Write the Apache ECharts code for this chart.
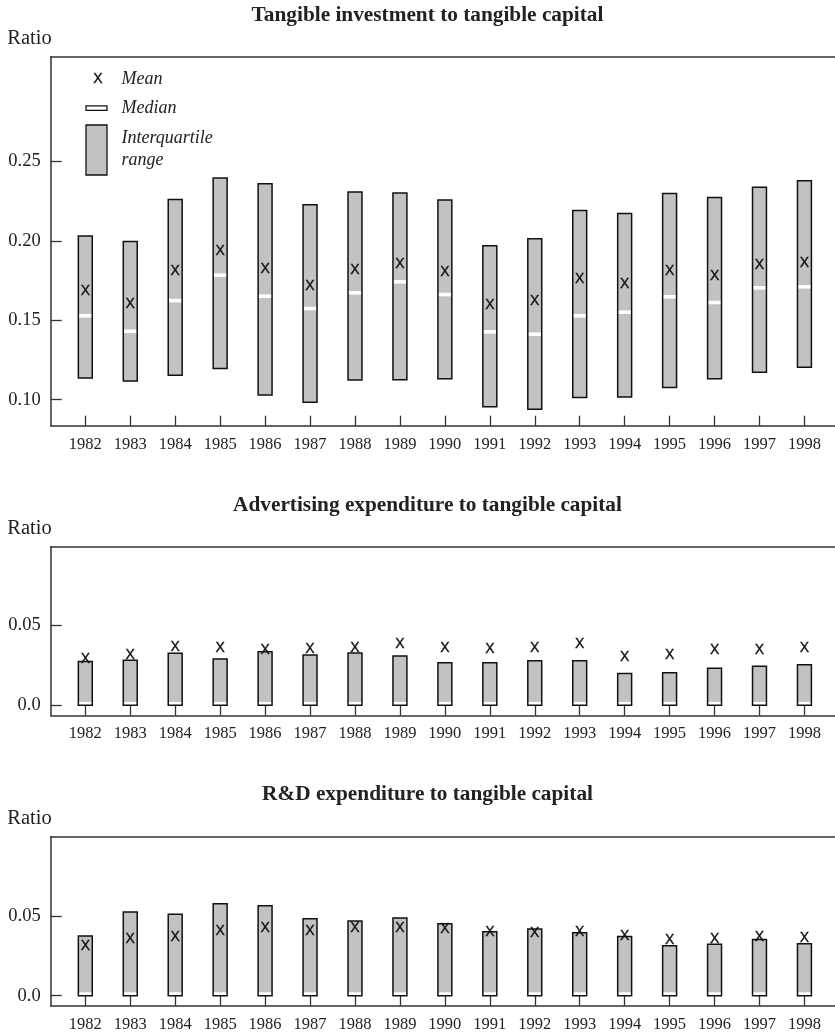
<!DOCTYPE html>
<html>
<head>
<meta charset="utf-8">
<script src="https://cdn.jsdelivr.net/npm/echarts@6/dist/echarts.min.js"></script>
<style>
html,body{margin:0;padding:0;background:#fff;}
#chart{width:835px;height:1034px;}
</style>
</head>
<body>
<div id="chart"></div>
<script>
// ---- data ----
const years = ['1982','1983','1984','1985','1986','1987','1988','1989','1990','1991','1992','1993','1994','1995','1996','1997','1998'];

const tanQ1   = [0.1137,0.1118,0.1154,0.1196,0.1030,0.0984,0.1124,0.1126,0.1132,0.0956,0.0939,0.1013,0.1017,0.1076,0.1131,0.1173,0.1204];
const tanMed  = [0.1528,0.1431,0.1624,0.1784,0.1652,0.1574,0.1673,0.1742,0.1662,0.1427,0.1412,0.1528,0.1551,0.1648,0.1612,0.1704,0.1711];
const tanQ3   = [0.2030,0.1996,0.2261,0.2396,0.2360,0.2228,0.2308,0.2301,0.2257,0.1969,0.2013,0.2192,0.2173,0.2299,0.2274,0.2337,0.2379];
const tanMean = [0.1685,0.1603,0.1811,0.1938,0.1824,0.1717,0.1818,0.1856,0.1805,0.1593,0.1622,0.1759,0.1725,0.1810,0.1780,0.1849,0.1860];

const advQ1   = [0,0,0,0,0,0,0,0,0,0,0,0,0,0,0,0,0];
const advMed  = [0.001,0.001,0.001,0.001,0.001,0.001,0.001,0.001,0.001,0.001,0.001,0.001,0.001,0.001,0.001,0.001,0.001];
const advQ3   = [0.0273,0.0281,0.0325,0.0289,0.0335,0.0314,0.0327,0.0308,0.0266,0.0266,0.0279,0.0279,0.0198,0.0204,0.0231,0.0244,0.0254];
const advMean = [0.0291,0.0312,0.0364,0.0356,0.0346,0.0354,0.0356,0.0381,0.0360,0.0350,0.0356,0.0381,0.0302,0.0312,0.0346,0.0346,0.0356];

const rdQ1    = [0,0,0,0,0,0,0,0,0,0,0,0,0,0,0,0,0];
const rdMed   = [0.001,0.001,0.001,0.001,0.001,0.001,0.001,0.001,0.001,0.001,0.001,0.001,0.001,0.001,0.001,0.001,0.001];
const rdQ3    = [0.0376,0.0527,0.0512,0.0579,0.0567,0.0485,0.0470,0.0489,0.0453,0.0403,0.0420,0.0397,0.0372,0.0315,0.0324,0.0353,0.0327];
const rdMean  = [0.0313,0.0355,0.0370,0.0406,0.0424,0.0407,0.0424,0.0424,0.0418,0.0401,0.0395,0.0397,0.0378,0.0351,0.0353,0.0370,0.0365];

const titles = ['Tangible investment to tangible capital','Advertising expenditure to tangible capital','R&D expenditure to tangible capital'];
const yTicksTop = [0.10,0.15,0.20,0.25];
const yTicksSmall = [0,0.05];

// ---- layout / style ----
const SERIF = '"Liberation Serif","Times New Roman",serif';
const SANS = '"Liberation Sans",Arial,sans-serif';
const INK = '#222';
const AX = '#333';
const panels = [
  {top:56.7, height:369, ymin:0.0836, ymax:0.316, ticks:yTicksTop, fmt:v=>v.toFixed(2), titleTop:0, q1:tanQ1, med:tanMed, q3:tanQ3, mean:tanMean},
  {top:546.7, height:168.6, ymin:-0.00625, ymax:0.0991, ticks:yTicksSmall, fmt:v=>v===0?'0.0':v.toFixed(2), titleTop:490, q1:advQ1, med:advMed, q3:advQ3, mean:advMean},
  {top:836.7, height:169, ymin:-0.0063, ymax:0.1001, ticks:yTicksSmall, fmt:v=>v===0?'0.0':v.toFixed(2), titleTop:779, q1:rdQ1, med:rdMed, q3:rdQ3, mean:rdMean}
];
const idx = years.map((_, i) => i);
const XMIN = -0.77, XMAX = 16.68;
const MEAN_FONT = '14px ' + SANS;

function renderBox(params, api) {
  const i = api.value(0);
  const lo = api.coord([i, api.value(1)]);
  const md = api.coord([i, api.value(2)]);
  const hi = api.coord([i, api.value(3)]);
  const mn = api.coord([i, api.value(4)]);
  const w = api.size([1, 0])[0] * 0.31;
  const x0 = lo[0] - w / 2;
  return {
    type: 'group',
    children: [
      {type:'rect', shape:{x:x0, y:hi[1], width:w, height:lo[1]-hi[1]}, style:{fill:'#c2c2c2', stroke:null}},
      {type:'rect', shape:{x:x0, y:md[1]-1.8, width:w, height:3.6}, style:{fill:'#ffffff', stroke:null}},
      {type:'rect', shape:{x:x0, y:hi[1], width:w, height:lo[1]-hi[1]}, style:{fill:null, stroke:'#111', lineWidth:1.5}},
      {type:'text', x:mn[0], y:mn[1], style:{text:'X', font:MEAN_FONT, fill:'#111', stroke:'#111', lineWidth:0.4, align:'center', verticalAlign:'middle'}}
    ]
  };
}

const grid = [], xAxis = [], yAxis = [], series = [], title = [];
panels.forEach((p, k) => {
  grid.push({left:50.7, right:0, top:p.top, height:p.height, containLabel:false});
  title.push({text:titles[k], left:422.5, top:p.titleTop, textAlign:'center',
    textStyle:{fontFamily:SERIF, fontWeight:'bold', fontSize:21.3, color:INK}});
  xAxis.push({type:'value', gridIndex:k, min:XMIN, max:XMAX,
    axisLine:{show:true, onZero:false, lineStyle:{color:AX, width:1.5}},
    axisTick:{show:true, inside:true, length:10, customValues:idx, lineStyle:{color:AX, width:1.3}},
    axisLabel:{show:true, customValues:idx, formatter:v=>years[Math.round(v)], margin:10,
      fontFamily:SERIF, fontSize:16.5, color:INK},
    splitLine:{show:false}});
  xAxis.push({type:'value', gridIndex:k, position:'top', min:XMIN, max:XMAX,
    axisLine:{show:true, onZero:false, lineStyle:{color:AX, width:1.5}},
    axisTick:{show:false}, axisLabel:{show:false}, splitLine:{show:false}});
  yAxis.push({type:'value', gridIndex:k, min:p.ymin, max:p.ymax,
    name:'Ratio', nameLocation:'end', nameGap:8,
    nameTextStyle:{fontFamily:SERIF, fontSize:20.5, color:INK, align:'right', padding:[0,-1,0,0]},
    axisLine:{show:true, onZero:false, lineStyle:{color:AX, width:1.5}},
    axisTick:{show:true, inside:true, length:11, customValues:p.ticks, lineStyle:{color:AX, width:1.3}},
    axisLabel:{show:true, customValues:p.ticks, formatter:p.fmt, margin:10,
      fontFamily:SERIF, fontSize:18.5, color:INK},
    splitLine:{show:false}});
  series.push({type:'custom', xAxisIndex:k*2, yAxisIndex:k, renderItem:renderBox,
    encode:{x:0, y:[1,3]}, silent:true, clip:false,
    data: years.map((_, i) => [i, p.q1[i], p.med[i], p.q3[i], p.mean[i]])});
});

const legendText = (t, x, y) => ({type:'text', x:x, y:y,
  style:{text:t, font:'italic 18px ' + SERIF, fill:INK, align:'left', verticalAlign:'middle'}});

const option = {
  animation:false,
  backgroundColor:'#fff',
  title, grid, xAxis, yAxis, series,
  graphic:[
    {type:'text', x:98, y:79, style:{text:'X', font:MEAN_FONT, fill:'#111', stroke:'#111', lineWidth:0.4, align:'center', verticalAlign:'middle'}},
    legendText('Mean', 121.5, 79),
    {type:'rect', shape:{x:86, y:105.8, width:21, height:4.6}, style:{fill:'#fff', stroke:'#111', lineWidth:1.3}},
    legendText('Median', 121.5, 108),
    {type:'rect', shape:{x:86, y:125, width:21, height:50}, style:{fill:'#c2c2c2', stroke:'#111', lineWidth:1.3}},
    legendText('Interquartile', 121.5, 138.7),
    legendText('range', 121.5, 160)
  ]
};

const chart = echarts.init(document.getElementById('chart'), null, {renderer:'canvas'});
chart.setOption(option);
</script>
</body>
</html>
